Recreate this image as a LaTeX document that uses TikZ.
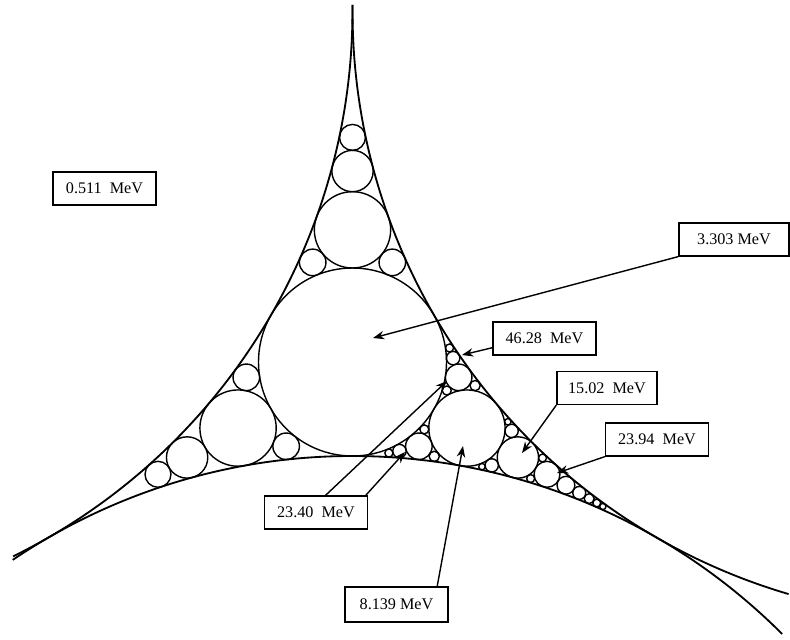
\documentclass[tikz,border=0pt]{standalone}
\usepackage{fontspec}
\setmainfont{Liberation Serif}
\usepackage{xfp}
\usetikzlibrary{arrows.meta}
\tikzset{
massbox/.style={shape=rectangle,draw,minimum width=2.57cm,minimum height=0.82cm,inner sep=0pt,font=\fontsize{11.5}{13}\selectfont},
bound/.style={line width=1.3pt},
ring/.style={line width=1pt}
}
% curvatures in MeV, radius = \rscale/k
\newcommand{\rscale}{310.5}
\newcommand{\getk}[3]{#1}
\newcommand{\getp}[3]{#2}
\newcommand{\getq}[3]{#3}
\edef\kD{\fpeval{0.511*(3+2*sqrt(3))}}
\edef\Rout{\fpeval{\rscale/0.511}}
\edef\ddist{\fpeval{\rscale/0.511+\rscale/\kD}}
\edef\xA{\fpeval{352.5-\ddist*cosd(30)}}
\edef\yA{\fpeval{-362+\ddist*sind(30)}}
\edef\xB{\fpeval{352.5+\ddist*cosd(30)}}
\edef\yC{\fpeval{-362-\ddist}}
\edef\cA{{0.511}{\fpeval{0.511*\xA}}{\fpeval{0.511*\yA}}}
\edef\cB{{0.511}{\fpeval{0.511*\xB}}{\fpeval{0.511*\yA}}}
\edef\cC{{0.511}{\fpeval{0.511*352.5}}{\fpeval{0.511*\yC}}}
\edef\cD{{\kD}{\fpeval{\kD*352.5}}{\fpeval{\kD*(-362)}}}
% fill the gap between #1 #2 #3 (opposite circle #4) up to curvature #5
\newcommand{\gapfill}[5]{%
\begingroup
\edef\nk{\fpeval{2*(\getk#1+\getk#2+\getk#3)-\getk#4}}%
\ifnum\fpeval{\nk<#5}=1
\edef\np{\fpeval{2*(\getp#1+\getp#2+\getp#3)-\getp#4}}%
\edef\nq{\fpeval{2*(\getq#1+\getq#2+\getq#3)-\getq#4}}%
\edef\nx{\fpeval{round(\np/\nk,3)}}%
\edef\ny{\fpeval{round(\nq/\nk,3)}}%
\edef\nr{\fpeval{round(\rscale/\nk,3)}}%
\draw[ring] (\nx,\ny) circle[radius=\nr];
\edef\gapnext{%
\noexpand\gapfill{\unexpanded{#1}}{\unexpanded{#2}}{{\nk}{\np}{\nq}}{\unexpanded{#3}}{#5}%
\noexpand\gapfill{\unexpanded{#1}}{\unexpanded{#3}}{{\nk}{\np}{\nq}}{\unexpanded{#2}}{#5}%
\noexpand\gapfill{\unexpanded{#2}}{\unexpanded{#3}}{{\nk}{\np}{\nq}}{\unexpanded{#1}}{#5}}%
\gapnext
\fi
\endgroup}

\begin{document}
\begin{tikzpicture}
[x=0.025cm,y=0.025cm,>={Stealth[length=8pt,width=6pt]},line width=1pt]
\useasboundingbox (0,0) rectangle (790,-639);
\draw[bound] (\xA,\yA) ++(0.6:\Rout) arc[start angle=0.6,end angle=-63.8,radius=\Rout];
\draw[bound] (\xB,\yA) ++(179.4:\Rout) arc[start angle=179.4,end angle=253.6,radius=\Rout];
\draw[bound] (352.5,\yC) ++(124:\Rout) arc[start angle=124,end angle=45,radius=\Rout];
\draw[ring] (352.5,-362) circle[radius=\fpeval{\rscale/\kD}];
\edef\gapnext{\noexpand\gapfill{\cA}{\cB}{\cD}{\cC}{24}\noexpand\gapfill{\cA}{\cC}{\cD}{\cB}{24}\noexpand\gapfill{\cB}{\cC}{\cD}{\cA}{100}}
\gapnext

\node[massbox] (l0511) at (104.5,-188.5) {0.511\ \ MeV};
\node[massbox,minimum width=2.75cm] (l3303) at (734,-239.5) {3.303 MeV};
\node[massbox] (l4628) at (544.5,-338.5) {46.28\ \ MeV};
\node[massbox,minimum width=2.5cm] (l1502) at (607,-388) {15.02\ \ MeV};
\node[massbox] (l2394) at (657,-439.5) {23.94\ \ MeV};
\node[massbox] (l2340) at (316,-512.5) {23.40\ \ MeV};
\node[massbox,minimum height=0.87cm] (l8139) at (396.5,-604.5) {8.139 MeV};

\coordinate (t3303) at (373,-338);
\coordinate (t4628) at (462,-355);
\coordinate (t1502) at (522,-453);
\coordinate (t2394) at (557,-473);
\coordinate (t2340a) at (447,-381);
\coordinate (t2340b) at (405,-452);
\coordinate (t8139) at (463,-446);

\draw[->] (l3303.south west) -- (t3303);
\draw[->] (l4628.190) -- (t4628);
\draw[->] (l1502.south west) -- (t1502);
\draw[->] (l2394.south west) -- (t2394);
\draw[->] (l2340.61) -- (t2340a);
\draw[->] (l2340.19) -- (t2340b);
\draw[->] (l8139.24) -- (t8139);
\end{tikzpicture}
\end{document}
